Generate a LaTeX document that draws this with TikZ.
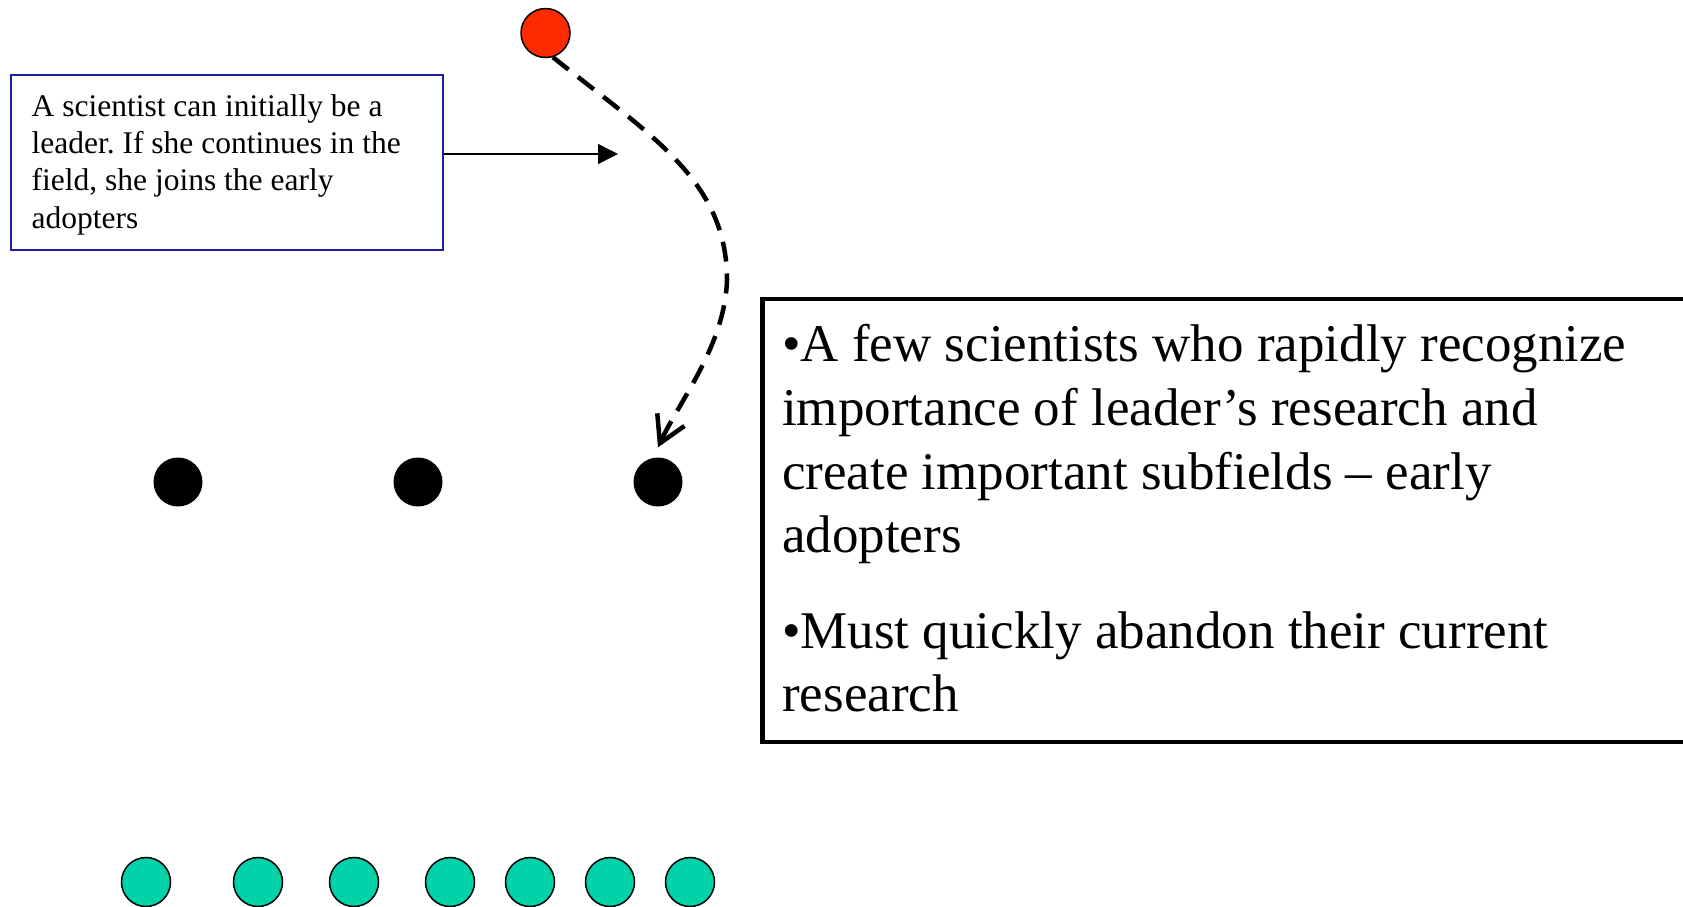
\documentclass[tikz,border=0pt]{standalone}
\usepackage{fontspec}
\setmainfont{Liberation Serif}
\usetikzlibrary{arrows.meta}
\definecolor{leaderred}{RGB}{255,42,0}
\definecolor{adoptgreen}{RGB}{0,210,170}
\definecolor{noteblue}{RGB}{30,30,160}
\frenchspacing
\begin{document}
\begin{tikzpicture}[x=1pt,y=-1pt,
  dot/.style={circle,inner sep=0pt,minimum size=49pt},
  leaderdot/.style={dot,fill=leaderred,draw=black,line width=1.5pt},
  adopterdot/.style={dot,fill=black},
  followerdot/.style={dot,fill=adoptgreen,draw=black,line width=1.5pt},
  notebox/.style={draw=noteblue,line width=1.5pt,inner sep=0pt,minimum width=432pt,minimum height=175pt},
  infobox/.style={draw=black,line width=4.5pt,inner sep=0pt,minimum width=1000pt,minimum height=443pt},
  pathline/.style={line width=4.5pt,dash pattern=on 20pt off 12pt,-{Straight Barb[length=26pt,width=30pt]}},
  pointer/.style={line width=1.5pt,-{Triangle[length=20pt,width=20pt]}},
  % multi-line nodes: the base anchor sits on the baseline of the last line
  smalltext/.style={anchor=base west,align=left,inner sep=0pt,font=\fontsize{31.5}{37.3}\selectfont},
  bigtext/.style={anchor=base west,align=left,inner sep=0pt,font=\fontsize{53}{63.7}\selectfont}]

\useasboundingbox (0,0) rectangle (1683,906);
\clip (0,0) rectangle (1683,906);

% the leader
\node[leaderdot] (leader) at (545.5,33) {};

% early adopters
\node[adopterdot] (a1) at (178,482) {};
\node[adopterdot] (a2) at (418,482) {};
\node[adopterdot] (a3) at (658,482) {};

% followers along the bottom edge
\foreach \x/\n in {146/1,258/2,354/3,450/4,530/5,610/6,690/7}
  \node[followerdot] (f\n) at (\x,882) {};

% explanatory note with its pointer
\node[notebox,anchor=north west] (note) at (10,74) {};
\node[smalltext] (notetext) at (31.5,228)
  {A scientist can initially be a\\leader. If she continues in the\\field, she joins the early\\adopters};
\coordinate (aim) at (618,154);
\draw[pointer] (note.east |- aim) -- (aim);

% path of the leader joining the early adopters
\draw[pathline] (leader.-73) .. controls (650,135) and (727,180) .. (727,280)
  .. controls (725,345) and (680,400) .. ([yshift=10pt]a3.north);

% description box, running off the right edge
\node[infobox,anchor=north west] (info) at (760,296.5) {};
\node[bigtext] (infotext) at (782,711.8)
  {•A few scientists who rapidly recognize\\importance of leader’s research and\\create important subfields – early\\adopters\\[31.6pt]•Must quickly abandon their current\\research};
\end{tikzpicture}
\end{document}
